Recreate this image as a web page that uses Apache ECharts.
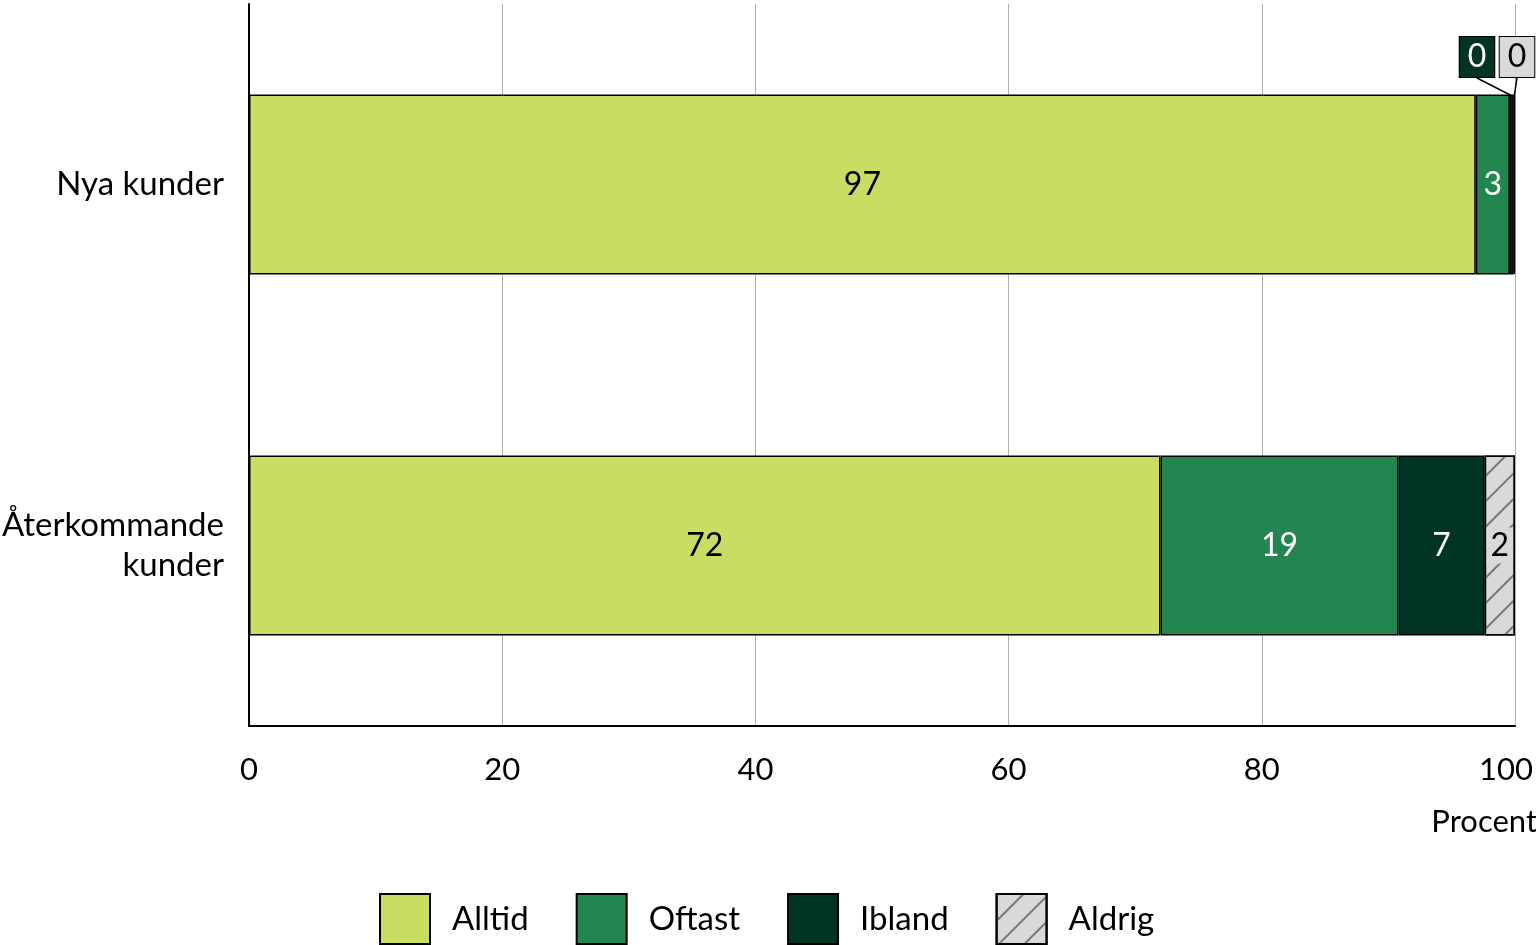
<!DOCTYPE html>
<html><head><meta charset="utf-8">
<script src="https://cdn.jsdelivr.net/npm/echarts@6/dist/echarts.min.js"></script>
<style>html,body{margin:0;padding:0;background:#fff}#c{width:1536px;height:945px}</style>
</head><body><div id="c"></div>
<script>
const categories = ['Nya kunder', 'Återkommande\nkunder'];
const alltid = [96.9, 72.0];
const oftast = [2.7, 18.8];
const ibland = [0.3, 6.8];
const aldrig = [0.1, 2.4];
const xTicks = [0, 20, 40, 60, 80, 100];

const FONT = 'Lato';
const chart = echarts.init(document.getElementById('c'));
const border = {borderColor: '#000', borderWidth: 1.5};
function lbl(color, extra) {
  return Object.assign({show: true, position: 'inside', fontFamily: FONT, fontSize: 32, color: color,
    formatter: p => Math.round(p.value)}, extra || {});
}
chart.setOption({
  animation: false,
  textStyle: {fontFamily: FONT},
  graphic: [{type: 'text', right: -1, top: 806, style: {text: 'Procent', fontFamily: FONT, fontSize: 31, fill: '#000'}}],
  legend: {
    top: 888, left: 374, itemWidth: 50, itemHeight: 50, itemGap: 47,
    icon: 'rect',
    textStyle: {fontFamily: FONT, fontSize: 33, color: '#000', padding: [0, 0, 0, 17]},
    data: ['Alltid', 'Oftast', 'Ibland', 'Aldrig']
  },
  grid: {left: 249, right: 21, top: 4, bottom: 219, containLabel: false, outerBoundsMode: 'none'},
  xAxis: {
    type: 'value', min: 0, max: 100, interval: 20,
    axisLine: {show: true, lineStyle: {color: '#000', width: 2}},
    axisTick: {show: false},
    axisLabel: {fontFamily: FONT, fontSize: 31, color: '#000', margin: 28,
      formatter: v => v === 100 ? '{m|100}' : (xTicks.includes(v) ? String(v) : ''),
      rich: {m: {fontFamily: FONT, fontSize: 31, color: '#000', padding: [0, 18, 0, 0]}}},
    splitLine: {show: true, lineStyle: {color: '#b0b0b0', width: 1}}
  },
  yAxis: {
    type: 'category', data: categories, inverse: true,
    axisLine: {show: true, lineStyle: {color: '#000', width: 2}},
    axisTick: {show: false},
    axisLabel: {fontFamily: FONT, fontSize: 33, color: '#000', margin: 25, lineHeight: 40}
  },
  series: [
    {name: 'Alltid', type: 'bar', stack: 's', data: alltid, barWidth: 180,
      itemStyle: Object.assign({color: '#cbdc62'}, border), label: lbl('#000')},
    {name: 'Oftast', type: 'bar', stack: 's', data: oftast,
      itemStyle: Object.assign({color: '#23854f'}, border), label: lbl('#fff')},
    {name: 'Ibland', type: 'bar', stack: 's', data: ibland,
      itemStyle: Object.assign({color: '#023425'}, border),
      label: lbl('#fff'),
      labelLine: {show: true, lineStyle: {color: '#000', width: 1.5}},
      labelLayout: p => p.dataIndex === 0 ? {x: 1477, y: 57, align: 'center', verticalAlign: 'middle'} : {},
      data: [
        {value: ibland[0], label: {backgroundColor: '#023425', borderColor: '#000', borderWidth: 1, padding: [5, 8, 3, 8], position: 'top'}},
        ibland[1]
      ]},
    {name: 'Aldrig', type: 'bar', stack: 's',
      itemStyle: Object.assign({color: '#d9d9d9', decal: {symbol: 'rect', symbolSize: 1, dashArrayX: [1, 0], dashArrayY: [2, 16], rotation: -Math.PI / 4, color: '#777'}}, border),
      label: lbl('#000', {backgroundColor: '#d9d9d9', padding: [3, 4, 1, 4]}),
      labelLine: {show: true, lineStyle: {color: '#000', width: 1.5}},
      labelLayout: p => p.dataIndex === 0 ? {x: 1517, y: 57, align: 'center', verticalAlign: 'middle'} : {},
      data: [
        {value: aldrig[0], label: {borderColor: '#000', borderWidth: 1, padding: [5, 8, 3, 8], position: 'top'}},
        aldrig[1]
      ]}
  ]
});
</script></body></html>
